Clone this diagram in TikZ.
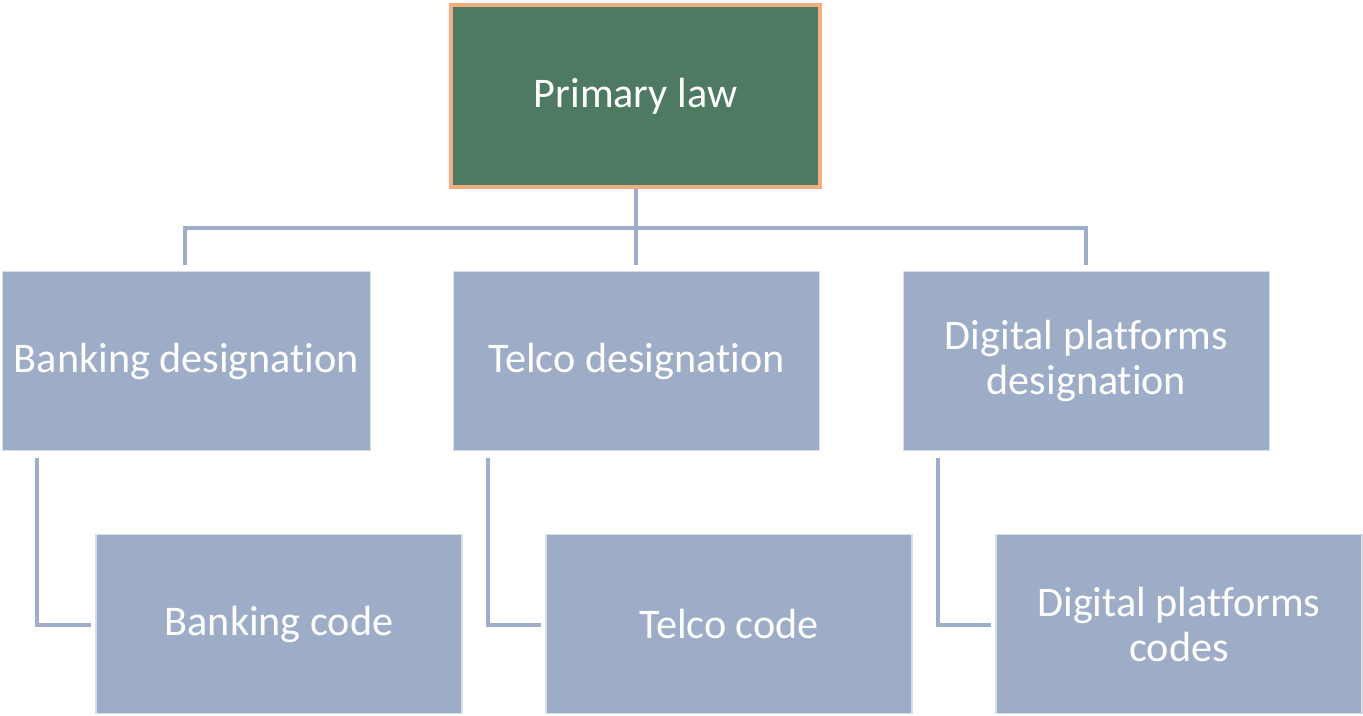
\documentclass[tikz,border=0pt]{standalone}
\usepackage{fontspec}
\setmainfont{Carlito}[RawFeature={-liga;-clig;-calt;-dlig}]
\usetikzlibrary{positioning}

\definecolor{lawgreen}{HTML}{4D7A60}
\definecolor{laworange}{HTML}{F2AE7E}
\definecolor{boxblue}{HTML}{9EADC7}
\definecolor{lineblue}{HTML}{9EADC8}

\tikzset{
  lawbox/.style={rectangle, fill=lawgreen, draw=laworange, line width=0.04cm,
    minimum width=3.69cm, minimum height=1.82cm, text=white, align=center,
    font=\fontsize{12}{12.8}\selectfont},
  desigbox/.style={rectangle, fill=boxblue, draw=boxblue!40!white, line width=0.3pt,
    minimum width=3.66cm, minimum height=1.79cm, text=white, align=center,
    font=\fontsize{12}{12.8}\selectfont},
  link/.style={draw=lineblue, line width=0.04cm}
}

\begin{document}
\begin{tikzpicture}

\useasboundingbox (0,0) rectangle (13.63,-7.15);

% ========================
% TOP: PRIMARY LAW
% ========================

\node[lawbox] (law) at (6.355,-0.96) {Primary law};

% ========================
% DESIGNATIONS
% ========================

\node[desigbox] (bankdes) at (1.865,-3.61) {Banking designation};
\node[desigbox] (telcodes) at (6.365,-3.61) {Telco designation};
\node[desigbox] (digides) at (10.865,-3.61) {Digital platforms\\designation};

% ========================
% CODES
% ========================

\node[desigbox] (bankcode) at (2.79,-6.24) {Banking code};
\node[desigbox] (telcocode) at (7.29,-6.24) {Telco code};
\node[desigbox] (digicode) at (11.79,-6.24) {Digital platforms\\codes};

% tree connectors (stop short of the boxes)
\coordinate (bus) at (6.36,-2.28);
\coordinate (bankin) at (1.85,-2.65);
\coordinate (telcoin) at (6.36,-2.65);
\coordinate (digiin) at (10.86,-2.65);

\draw[link] (law.south -| bus) -- (bus);
\draw[link] (bankin) -- (bankin |- bus) -- (digiin |- bus) -- (digiin);
\draw[link] (bus) -- (telcoin);

% designation -> code
\foreach \des/\code in {bankdes/bankcode, telcodes/telcocode, digides/digicode} {
  \coordinate (top-\des) at ([xshift=0.35cm,yshift=-0.07cm]\des.south west);
  \coordinate (end-\code) at ([xshift=-0.04cm,yshift=-0.01cm]\code.west);
  \draw[link] (top-\des) -- (top-\des |- end-\code) -- (end-\code);
}

\end{tikzpicture}
\end{document}
